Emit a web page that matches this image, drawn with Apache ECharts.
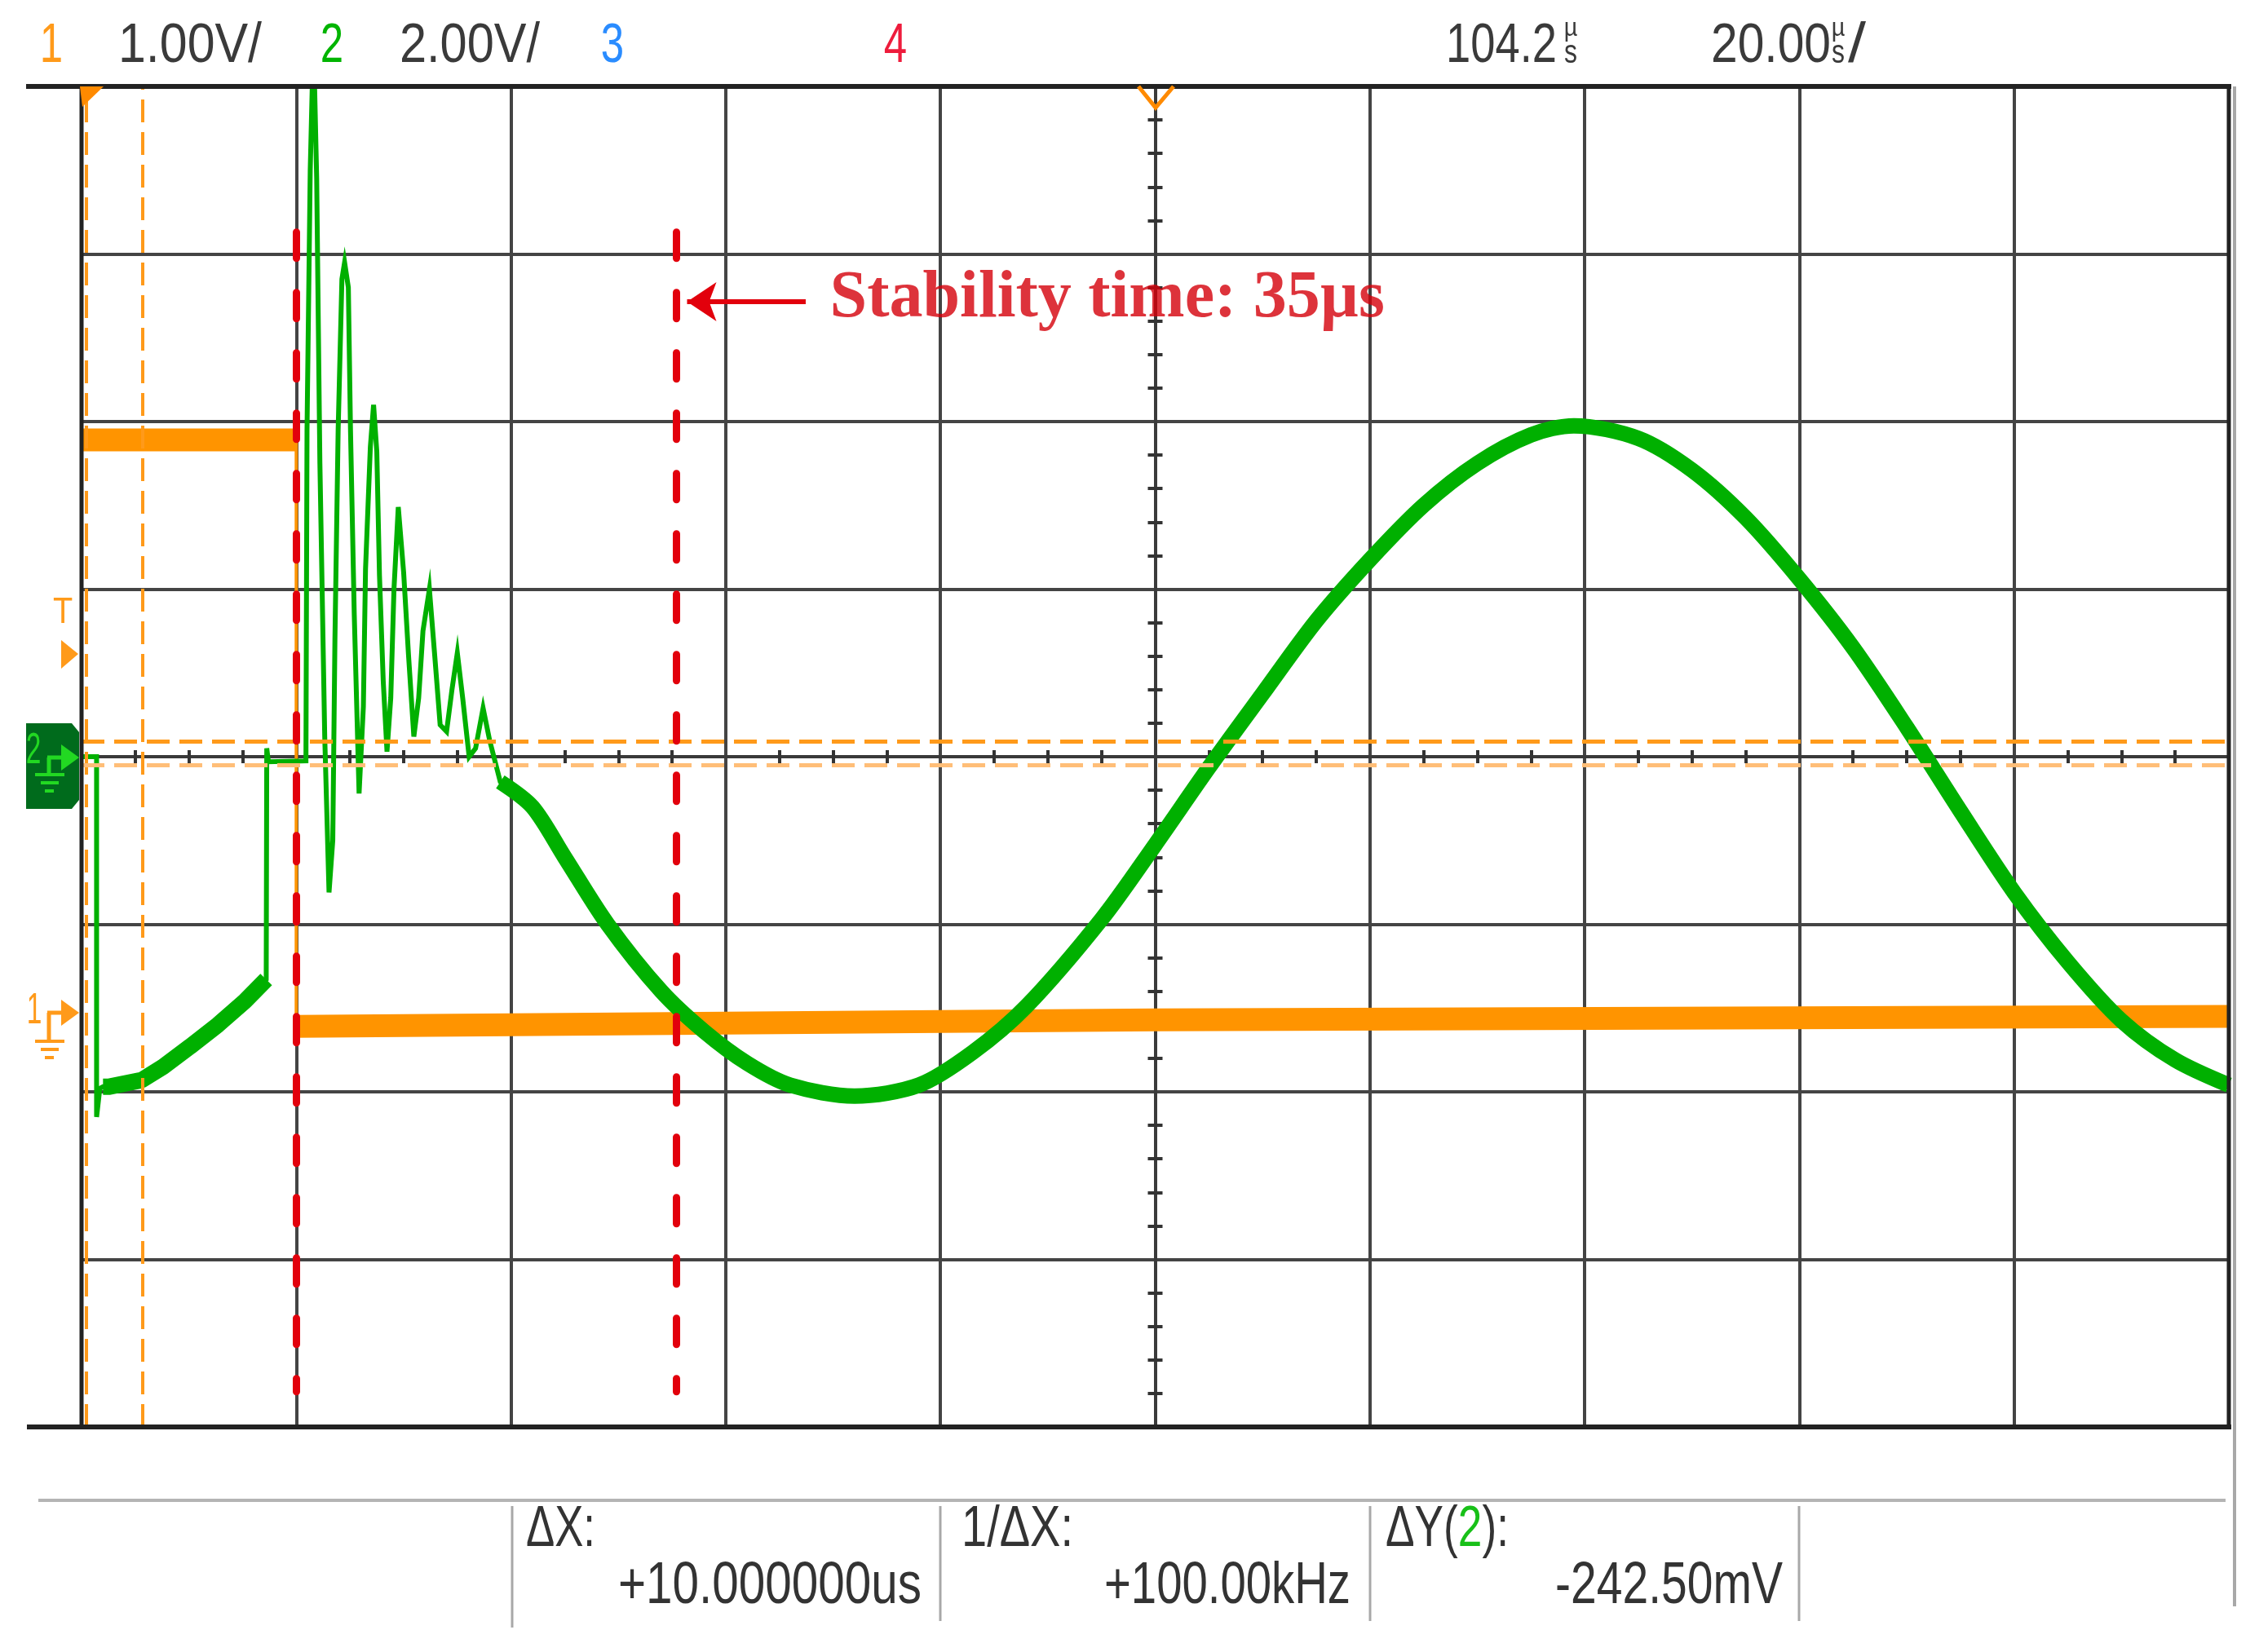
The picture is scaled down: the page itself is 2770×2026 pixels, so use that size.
<!DOCTYPE html>
<html>
<head>
<meta charset="utf-8">
<title>Stability time</title>
<script src="https://cdn.jsdelivr.net/npm/echarts@6/dist/echarts.min.js"></script>
<style>
  html, body { margin: 0; padding: 0; background: #fff; }
  #scope { width: 2770px; height: 2026px; }
</style>
</head>
<body>
<div id="scope"></div>
<script>
// 示波器截图 -> echarts
// time in µs from screen centre (20 µs/div), ch1 in V (1 V/div), ch2 in V (2 V/div)

var ch1Time = [-100, -80, -80, 0, 100];
var ch1Volt = [3.42, 3.42, -0.08, -0.04, -0.02];

var ch2LeadTime = [-100, -98.6, -98.6, -98.3];
var ch2LeadVolt = [0.0, 0.0, -4.3, -3.96];

var ch2RampTime = [-98.0, -97.5, -94.4, -92.4, -89.9, -87.3, -84.8, -82.8];
var ch2RampVolt = [-3.94, -3.94, -3.86, -3.70, -3.46, -3.20, -2.92, -2.66];

var ch2RingTime = [-82.75, -82.6, -79.1, -79.0, -78.7, -78.4, -78.1, -77.8, -77.35, -76.95,
  -76.6, -76.4, -76.1, -75.75, -75.5, -75.15, -74.95, -74.6, -74.15, -73.75,
  -73.55, -73.1, -72.8, -72.5, -72.25, -71.9, -71.55, -71.2, -70.9, -70.5,
  -70.0, -69.55, -69.05, -68.6, -68.2, -67.6, -67.1, -66.6, -66.0, -65.5,
  -65.0, -64.5, -63.9, -63.3, -62.6, -62.0];
var ch2RingVolt = [0.1, -0.06, -0.05, 3.9, 7.0, 8.6, 6.9, 3.5, 0.24, -1.62,
  -1.0, 1.4, 3.9, 5.7, 5.9, 5.6, 3.9, 1.7, -0.44, 0.6,
  2.24, 3.7, 4.2, 3.64, 2.16, 0.9, 0.06, 0.7, 2.0, 2.98,
  2.2, 1.22, 0.24, 0.7, 1.5, 2.0, 1.2, 0.38, 0.3, 0.8,
  1.24, 0.7, 0.0, 0.1, 0.58, 0.2];

var ch2SineTime = [-61, -58, -55, -51, -46, -42, -38, -34, -28, -22,
  -17, -12, -5, 0, 5, 10, 15, 20, 25, 30,
  35, 39, 45, 50, 55, 60, 65, 70, 75, 80,
  85, 90, 95, 100];
var ch2SineVolt = [-0.3, -0.6, -1.2, -2.0, -2.8, -3.28, -3.66, -3.92, -4.05, -3.92,
  -3.53, -2.98, -1.94, -1.05, -0.13, 0.75, 1.62, 2.35, 3.0, 3.5,
  3.84, 3.95, 3.8, 3.42, 2.85, 2.12, 1.3, 0.35, -0.65, -1.62,
  -2.45, -3.15, -3.62, -3.92];

// cursors and the hand drawn marks
var cursorX = [-99.6, -94.3];
var cursorY = [0.18, -0.1];
var stabilityTime = [-80, -44.6];
var stabilityTop = 6.26, stabilityBottom = -7.58;
var arrowFrom = [-32.55, 5.43], arrowTo = [-43.6, 5.43];
var noteText = 'Stability time: 35µs';
var noteAt = [-30.3, 5.43];

var headerChannels = [['1', '#ff9a1a'], ['2', '#00b400'], ['3', '#2a8cff'], ['4', '#ee1c3c']];
var headerScales = ['1.00V/', '2.00V/'];
var headerDelay = '104.2', headerTimebase = '20.00';
var cursorTexts = ['ΔX:', '+10.000000us', '1/ΔX:', '+100.00kHz', '-242.50mV'];

function pairs(t, v) {
  return t.map(function (x, i) { return [x, v[i]]; });
}
function noEdges(t, v) {   // break the line where it jumps vertically
  var out = [];
  t.forEach(function (x, i) {
    if (i > 0 && x === t[i - 1]) out.push([x, '-']);
    out.push([x, v[i]]);
  });
  return out;
}

var ch2AllTime = ch2LeadTime.concat(ch2RampTime, ch2RingTime, ch2SineTime);
var ch2AllVolt = ch2LeadVolt.concat(ch2RampVolt, ch2RingVolt, ch2SineVolt);

var chart = echarts.init(document.getElementById('scope'), null, { renderer: 'canvas' });

var GRID_LINE = '#444';
var TICK = { color: '#333', width: 4 };

function xAxisDef(pos, split) {
  return {
    type: 'value', min: -100, max: 100, interval: 20, position: pos,
    axisLine: { show: true, onZero: true, onZeroAxisIndex: 0, lineStyle: { color: '#3a3a3a', width: 4 } },
    axisTick: { show: false },
    minorTick: { show: true, splitNumber: 4, length: 8, lineStyle: TICK },
    axisLabel: { show: false },
    splitLine: { show: split, lineStyle: { color: GRID_LINE, width: 4 } }
  };
}
function yAxisDef(pos, split) {
  return {
    type: 'value', min: -8, max: 8, interval: 2, position: pos,
    axisLine: { show: true, onZero: true, onZeroAxisIndex: 0, lineStyle: { color: '#3a3a3a', width: 4 } },
    axisTick: { show: false },
    minorTick: { show: true, splitNumber: 5, length: 9, lineStyle: TICK },
    axisLabel: { show: false },
    splitLine: { show: split, lineStyle: { color: GRID_LINE, width: 4 } }
  };
}

// ---- text helpers (narrow scope font faked with scaleX) ----
var measure = document.createElement('canvas').getContext('2d');
var SANS = '"Liberation Sans", Arial, sans-serif';
function scopeText(pieces, x, cy, width, size) {
  var font = size + 'px ' + SANS;
  measure.font = font;
  var total = 0;
  pieces.forEach(function (p) { total += measure.measureText(p[0]).width; });
  var k = width / total, cx = x, out = [];
  pieces.forEach(function (p) {
    out.push({ type: 'text', x: cx, y: cy, scaleX: k, z: 20,
      style: { text: p[0], font: font, fill: p[1], align: 'left', verticalAlign: 'middle', textAlign: 'left', textVerticalAlign: 'middle' } });
    cx += measure.measureText(p[0]).width * k;
  });
  return out;
}
function centerText(str, cx, cy, size, color, k) {
  return { type: 'text', x: cx, y: cy, scaleX: k || 0.8, z: 20,
    style: { text: str, font: size + 'px ' + SANS, fill: color, align: 'center', verticalAlign: 'middle', textAlign: 'center', textVerticalAlign: 'middle' } };
}
function seg(x1, y1, x2, y2, color, w) {
  return { type: 'line', z: 15, shape: { x1: x1, y1: y1, x2: x2, y2: y2 }, style: { stroke: color, lineWidth: w } };
}
function poly(points, fill, z) {
  return { type: 'polygon', z: z || 16, shape: { points: points }, style: { fill: fill } };
}
function groundMarker(arrowY, stemBottom, color) {
  return [
    seg(60, arrowY, 60, stemBottom, color, 5),
    seg(58, arrowY, 80, arrowY, color, 5),
    poly([[75, arrowY - 16], [97, arrowY], [75, arrowY + 16]], color),
    seg(43, stemBottom, 79, stemBottom, color, 4),
    seg(50, stemBottom + 10, 72, stemBottom + 10, color, 4),
    seg(55, stemBottom + 20, 66, stemBottom + 20, color, 4)
  ];
}

var GREY = '#222';
var graphics = [
  // frame
  seg(32, 106, 2736, 106, GREY, 6),
  seg(33, 1750, 2736, 1750, GREY, 6),
  seg(100, 106, 100, 1750, GREY, 5),
  seg(2733, 106, 2733, 1750, GREY, 5),
  seg(2740, 106, 2740, 1970, '#a8a8a8', 4),
  seg(47, 1840, 2729, 1840, '#b4b4b4', 4),
  seg(628, 1847, 628, 1996, '#a8a8a8', 3),
  seg(1153, 1847, 1153, 1988, '#a8a8a8', 3),
  seg(1680, 1847, 1680, 1988, '#a8a8a8', 3),
  seg(2206, 1847, 2206, 1988, '#a8a8a8', 3),
  // trigger position markers
  poly([[98, 106], [127, 106], [101, 131]], '#ff8a00'),
  { type: 'polyline', z: 16, shape: { points: [[1396, 106], [1417, 132], [1439, 106]] }, style: { stroke: '#ff8a00', lineWidth: 5, fill: null } },
  // channel 2 ground marker (box)
  poly([[32, 887], [88, 887], [97, 898], [97, 981], [88, 992], [32, 992]], '#006b1c', 12),
  centerText('2', 41, 921, 54, '#22d822', 0.62),
  centerText('1', 42, 1240, 54, '#ff9a1a', 0.62),
  centerText('T', 77, 752, 44, '#ff9a1a', 0.9),
  poly([[75, 785], [96, 802], [75, 820]], '#ff9a1a')
]
.concat(groundMarker(929, 950, '#22d822'))
.concat(groundMarker(1242, 1277, '#ff9a1a'));

// header
var chCenters = [63, 407, 751, 1098];
headerChannels.forEach(function (c, i) { graphics.push(centerText(c[0], chCenters[i], 57, 68, c[1], 0.75)); });
graphics = graphics
  .concat(scopeText([[headerScales[0], '#3a3a3a']], 145, 57, 176, 68))
  .concat(scopeText([[headerScales[1], '#3a3a3a']], 490, 57, 172, 68))
  .concat(scopeText([[headerDelay, '#3a3a3a']], 1773, 57, 136, 68))
  .concat(scopeText([[headerTimebase, '#3a3a3a']], 2098, 57, 147, 68))
  .concat(scopeText([['/', '#3a3a3a']], 2266, 57, 22, 68));
[1926, 2254].forEach(function (ux) {
  graphics.push(centerText('µ', ux, 35, 32, '#3a3a3a', 0.9));
  graphics.push(centerText('s', ux, 66, 40, '#3a3a3a', 0.8));
});

// cursor read-outs
graphics = graphics
  .concat(scopeText([[cursorTexts[0], '#333']], 645, 1877, 85, 70))
  .concat(scopeText([[cursorTexts[1], '#333']], 758, 1946, 372, 72))
  .concat(scopeText([[cursorTexts[2], '#333']], 1179, 1877, 137, 70))
  .concat(scopeText([[cursorTexts[3], '#333']], 1354, 1946, 302, 72))
  .concat(scopeText([['ΔY(', '#333'], ['2', '#18c018'], ['):', '#333']], 1699, 1877, 151, 70))
  .concat(scopeText([[cursorTexts[4], '#333']], 1907, 1946, 279, 72));

var RED = '#e2000c';

var option = {
  backgroundColor: '#fff',
  animation: false,
  grid: { left: 100, right: 37, top: 106, bottom: 276, show: false },
  xAxis: [xAxisDef('bottom', true), xAxisDef('top', false)],
  yAxis: [
    yAxisDef('left', true),
    yAxisDef('right', false),
    { type: 'value', min: -2.47, max: 5.53, show: false }   // channel 1, 1 V/div
  ],
  graphic: { elements: graphics },
  series: [
    {
      name: 'cursors', type: 'line', data: [], silent: true,
      markLine: {
        silent: true, symbol: 'none', animation: false, label: { show: false },
        lineStyle: { color: '#ff9a1a', width: 4, type: [28, 12] },
        data: cursorX.map(function (x) { return { xAxis: x }; })
          .concat(cursorY.map(function (y, i) {
            return { yAxis: y, lineStyle: { color: i ? '#ffbe78' : '#ff9a1a', width: 5, type: [28, 12] } };
          }))
      }
    },
    {
      name: 'CH1 edge', type: 'line', yAxisIndex: 2, data: pairs(ch1Time, ch1Volt),
      symbol: 'none', lineStyle: { color: '#ff9400', width: 4 }, silent: true
    },
    {
      name: 'CH1', type: 'line', yAxisIndex: 2, data: noEdges(ch1Time, ch1Volt),
      symbol: 'none', lineStyle: { color: '#ff9400', width: 28 }, silent: true
    },
    {
      name: 'CH2', type: 'line', data: pairs(ch2AllTime, ch2AllVolt),
      symbol: 'none', lineStyle: { color: '#00b000', width: 6, join: 'miter' }, silent: true
    },
    {
      name: 'CH2 ramp', type: 'line', data: pairs(ch2RampTime, ch2RampVolt),
      symbol: 'none', lineStyle: { color: '#00b000', width: 20 }, silent: true
    },
    {
      name: 'CH2 sine', type: 'line', data: pairs(ch2SineTime, ch2SineVolt), smooth: 0.3,
      symbol: 'none', lineStyle: { color: '#00b000', width: 19 }, silent: true
    },
    {
      name: 'stability', type: 'line', data: [], silent: true,
      markLine: {
        silent: true, symbol: 'none', animation: false, label: { show: false },
        lineStyle: { color: RED, width: 9, type: [32, 42], cap: 'round' },
        data: stabilityTime.map(function (t) {
          return [{ coord: [t, stabilityTop] }, { coord: [t, stabilityBottom] }];
        })
      }
    },
    {
      name: 'arrow', type: 'line', data: [], silent: true,
      markLine: {
        silent: true, animation: false, label: { show: false },
        symbol: ['none', 'arrow'], symbolSize: 36,
        lineStyle: { color: RED, width: 6, type: 'solid' },
        data: [[{ coord: arrowFrom }, { coord: arrowTo }]]
      }
    },
    {
      name: 'note', type: 'scatter', data: [noteAt], symbolSize: 0, silent: true,
      label: {
        show: true, position: 'right', distance: 0, offset: [0, -3],
        formatter: noteText, color: '#d4000a',
        fontFamily: '"Liberation Serif", "DejaVu Serif", serif', fontWeight: 'bold', fontSize: 82
      }
    }
  ]
};

chart.setOption(option);
</script>
</body>
</html>
